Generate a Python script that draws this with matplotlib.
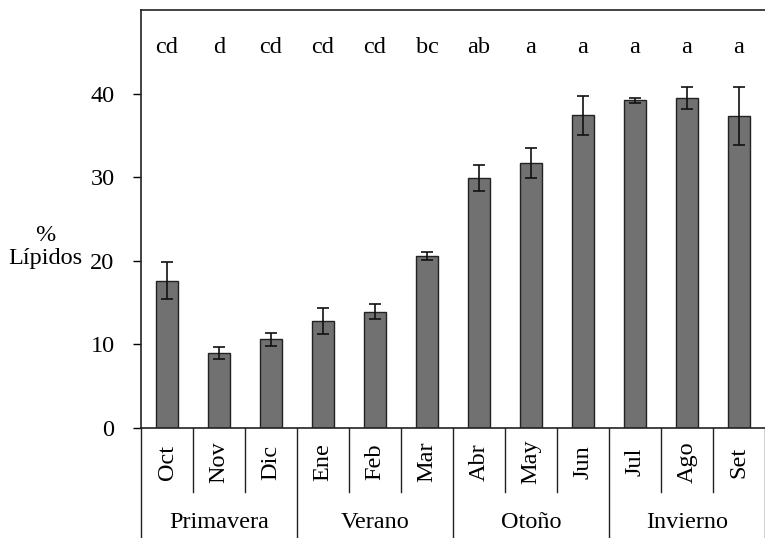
import matplotlib.pyplot as plt
import matplotlib.transforms as mtransforms
import numpy as np

plt.rcParams['font.family'] = ['Liberation Serif', 'DejaVu Serif']

months = ['Oct', 'Nov', 'Dic', 'Ene', 'Feb', 'Mar', 'Abr', 'May', 'Jun', 'Jul', 'Ago', 'Set']
lipids = [17.6, 9.0, 10.6, 12.8, 13.9, 20.6, 29.9, 31.7, 37.4, 39.2, 39.5, 37.3]
errors = [2.2, 0.7, 0.8, 1.6, 0.9, 0.5, 1.5, 1.8, 2.3, 0.3, 1.3, 3.5]
letters = ['cd', 'd', 'cd', 'cd', 'cd', 'bc', 'ab', 'a', 'a', 'a', 'a', 'a']
seasons = ['Primavera', 'Verano', 'Otoño', 'Invierno']

FS = 17.5
W, H = 765, 538
fig = plt.figure(figsize=(W / 100, H / 100), dpi=100)
ax = fig.add_axes([141 / W, (H - 428) / H, 624 / W, 418 / H])

x = np.arange(len(months))
ax.bar(x, lipids, width=0.42, color='#717171', edgecolor='#222222', linewidth=1.0,
       yerr=errors, capsize=4.5, error_kw=dict(ecolor='#111111', elinewidth=1.2, capthick=1.2))

for xi, lab in zip(x, letters):
    ax.text(xi, 45.5, lab, ha='center', va='center', fontsize=FS)

ax.set_xlim(-0.5, len(months) - 0.5)
ax.set_ylim(0, 50)
ax.set_yticks([0, 10, 20, 30, 40])
ax.tick_params(axis='y', direction='out', length=6, width=1, labelsize=FS, pad=13)
ax.set_xticks([])
ax.spines['right'].set_visible(False)
for s in ['left', 'bottom', 'top']:
    ax.spines[s].set_linewidth(1.2)
    ax.spines[s].set_color('#222222')

# categorical boxes beneath the axis
trans = mtransforms.blended_transform_factory(ax.transData, ax.transAxes)
y_month = (428 - 492) / 418
y_bottom = (428 - 540) / 418
for i in range(len(months) + 1):
    xb = i - 0.5
    y_end = y_bottom if i % 3 == 0 else y_month
    ax.plot([xb, xb], [0, y_end], transform=trans, color='#222222', lw=1.0, clip_on=False)
for xi, m in zip(x, months):
    ax.text(xi, (428 - 462) / 418, m, transform=trans, rotation=90, ha='center', va='center', fontsize=FS)
for k, s in enumerate(seasons):
    ax.text(3 * k + 1, (428 - 522) / 418, s, transform=trans, ha='center', va='center', fontsize=FS)

fig.text(45 / W, 1 - 247 / H, '%\nLípidos', ha='center', va='center', fontsize=FS, linespacing=1.1)

fig.savefig('out.png', dpi=100)
